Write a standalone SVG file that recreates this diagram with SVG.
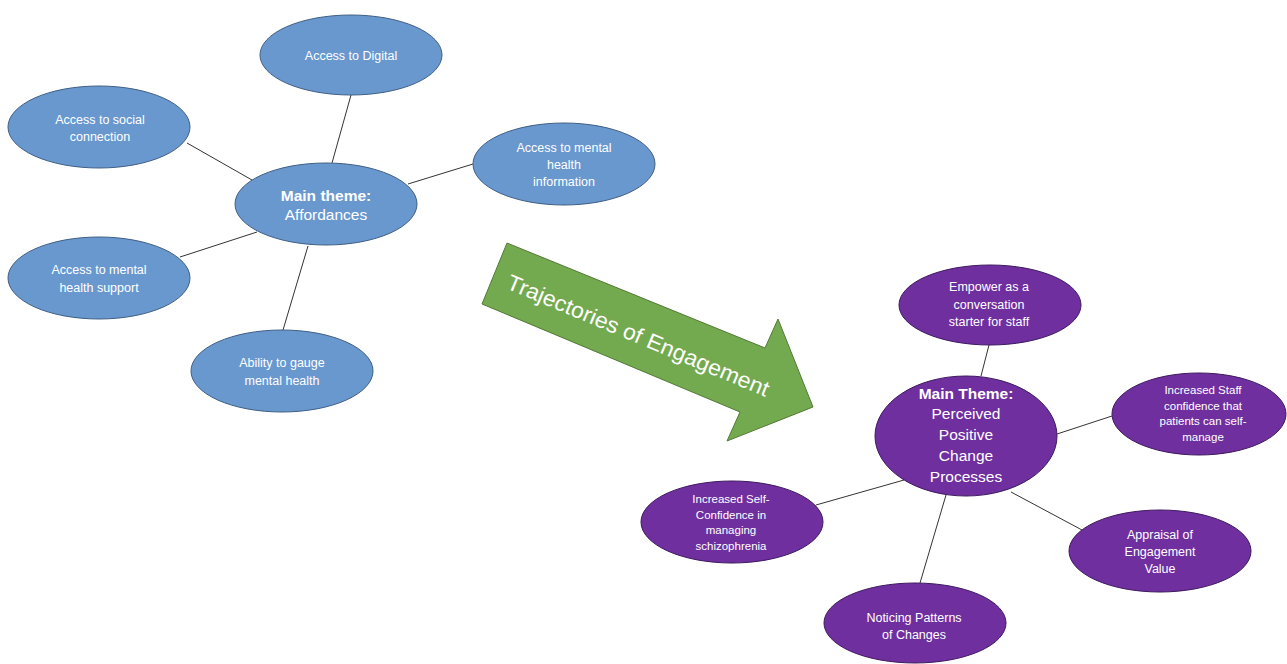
<svg xmlns="http://www.w3.org/2000/svg" width="1287" height="664" viewBox="0 0 1287 664">
<style>
.b{fill:#6998cf;stroke:#3f5f84;stroke-width:1}
.p{fill:#6f2f9f;stroke:#3e1a5e;stroke-width:1}
.t{font-family:"Liberation Sans","Noto Sans",sans-serif;fill:#ffffff;text-anchor:middle;font-size:12.5px}
.s{font-size:11.5px}
.m{font-size:15.5px}
.bd{font-weight:bold}
.c line{stroke:#333333;stroke-width:1}
</style>
<rect width="1287" height="664" fill="#ffffff"/>
<g class="c" id="connectors">
<line x1="351" y1="95" x2="332" y2="163"/>
<line x1="187" y1="143" x2="252" y2="180"/>
<line x1="473" y1="164" x2="408" y2="184"/>
<line x1="180" y1="257" x2="257" y2="232"/>
<line x1="308" y1="246" x2="283" y2="330"/>
<line x1="989" y1="345" x2="981" y2="376"/>
<line x1="1112" y1="416" x2="1057" y2="434"/>
<line x1="816" y1="505" x2="904" y2="480"/>
<line x1="1082" y1="530" x2="1011" y2="492"/>
<line x1="946" y1="495" x2="920" y2="583"/>
</g>
<g id="arrow">
<polygon points="507,243 765,348 778,319 813,407 727,441 740,412 482,304" fill="#73aa4f" stroke="#527a36" stroke-width="1"/>
<text class="t" transform="translate(638,336) rotate(22.7)" style="font-size:22px" textLength="282" lengthAdjust="spacingAndGlyphs" y="7">Trajectories of Engagement</text>
</g>
<g id="n-digital"><ellipse class="b" cx="351" cy="55" rx="91" ry="40"/><text class="t" x="351" y="59.5">Access to Digital</text></g>
<g id="n-social"><ellipse class="b" cx="99" cy="127" rx="91" ry="41"/><text class="t" x="100" y="123.5">Access to social</text><text class="t" x="100" y="140.5">connection</text></g>
<g id="n-info"><ellipse class="b" cx="564" cy="164" rx="91" ry="41"/><text class="t" x="564" y="151.5">Access to mental</text><text class="t" x="564" y="168.5">health</text><text class="t" x="564" y="186">information</text></g>
<g id="n-affordances"><ellipse class="b" cx="326" cy="204" rx="91" ry="41"/><text class="t m bd" x="326" y="200.5">Main theme:</text><text class="t m" x="326" y="219.5">Affordances</text></g>
<g id="n-support"><ellipse class="b" cx="99" cy="278" rx="91" ry="41"/><text class="t" x="99" y="273.5">Access to mental</text><text class="t" x="99" y="291.5">health support</text></g>
<g id="n-gauge"><ellipse class="b" cx="282" cy="371" rx="91" ry="41"/><text class="t" x="282" y="366.5">Ability to gauge</text><text class="t" x="282" y="384.5">mental health</text></g>
<g id="n-empower"><ellipse class="p" cx="990" cy="305" rx="91" ry="40"/><text class="t" x="989" y="290.5">Empower as a</text><text class="t" x="989" y="308.5">conversation</text><text class="t" x="989" y="325.5">starter for staff</text></g>
<g id="n-change"><ellipse class="p" cx="966" cy="436" rx="91" ry="60"/><text class="t m bd" x="966" y="398.5">Main Theme:</text><text class="t m" x="966" y="418.5">Perceived</text><text class="t m" x="966" y="439.5">Positive</text><text class="t m" x="966" y="460.5">Change</text><text class="t m" x="966" y="481.5">Processes</text></g>
<g id="n-staff"><ellipse class="p" cx="1199" cy="414" rx="87" ry="41"/><text class="t s" x="1203" y="394">Increased Staff</text><text class="t s" x="1203" y="410">confidence that</text><text class="t s" x="1203" y="425">patients can self-</text><text class="t s" x="1203" y="441">manage</text></g>
<g id="n-self"><ellipse class="p" cx="732" cy="522" rx="91" ry="41"/><text class="t s" x="731" y="503">Increased Self-</text><text class="t s" x="731" y="519">Confidence in</text><text class="t s" x="731" y="534">managing</text><text class="t s" x="731" y="550">schizophrenia</text></g>
<g id="n-appraisal"><ellipse class="p" cx="1160" cy="551" rx="91" ry="41"/><text class="t" x="1160" y="538.5">Appraisal of</text><text class="t" x="1160" y="555.5">Engagement</text><text class="t" x="1160" y="572.5">Value</text></g>
<g id="n-noticing"><ellipse class="p" cx="915" cy="623" rx="91" ry="40"/><text class="t" x="914" y="621.5">Noticing Patterns</text><text class="t" x="914" y="638.5">of Changes</text></g>
</svg>
